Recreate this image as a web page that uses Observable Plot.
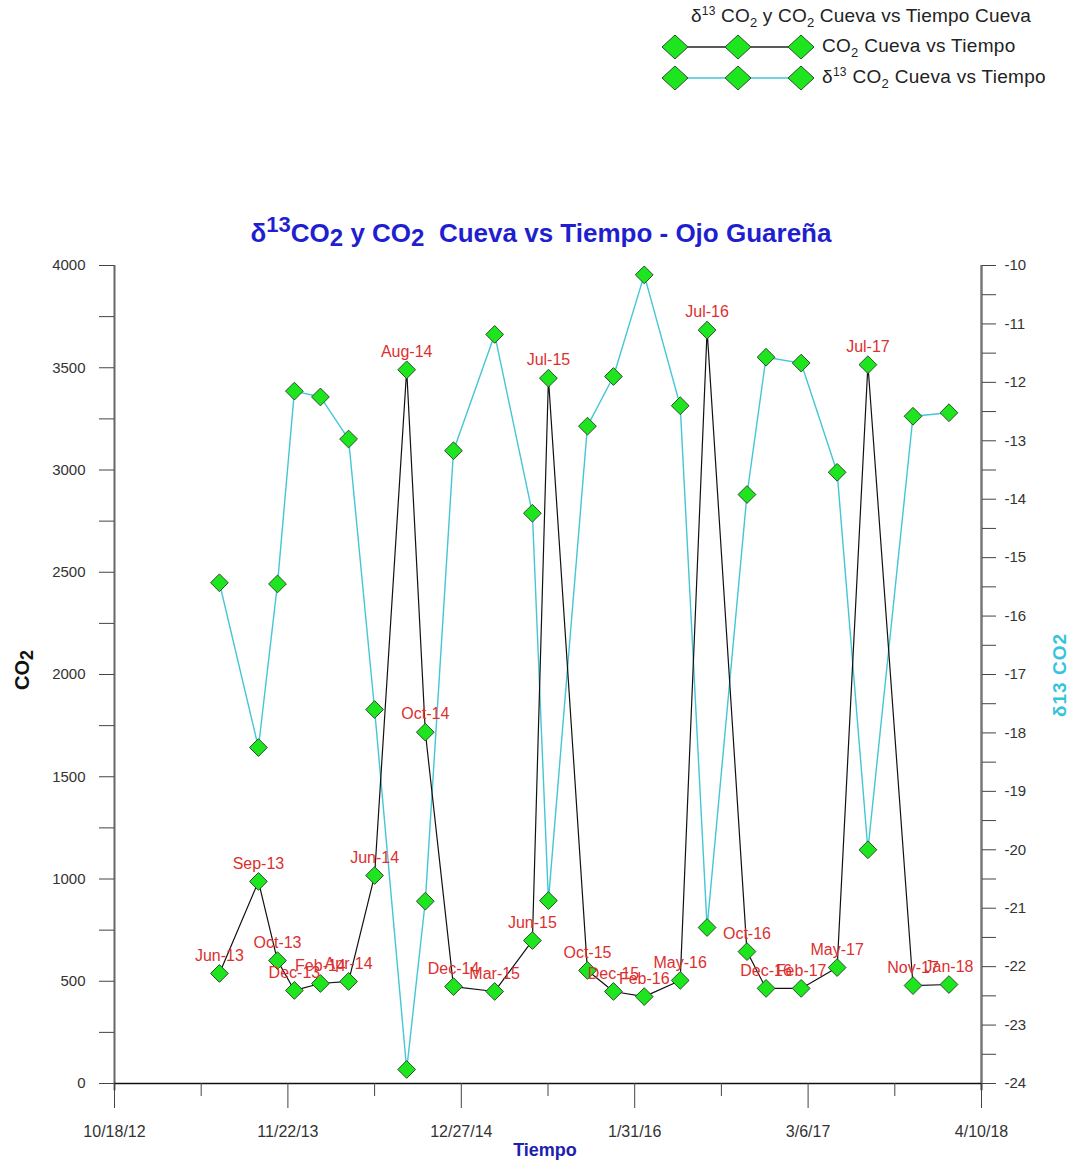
<!DOCTYPE html>
<html>
<head>
<meta charset="utf-8">
<script src="https://cdn.jsdelivr.net/npm/d3@7"></script>
<script src="https://cdn.jsdelivr.net/npm/@observablehq/plot@0.6"></script>
<style>
  html, body { margin: 0; padding: 0; background: #fff; }
  #wrap { position: relative; width: 1073px; height: 1160px; font-family: "Liberation Sans", Arial, sans-serif; }
  #chart { position: absolute; left: 0; top: 0; }
  .abs { position: absolute; white-space: nowrap; }
  .center { transform: translate(-50%, -50%); }
  .rot { transform: translate(-50%, -50%) rotate(-90deg); }
  sup, sub { line-height: 0; }
</style>
</head>
<body>
<div id="wrap">
  <div id="chart"></div>

  <!-- legend -->
  <div class="abs center" style="left:861px; top:16px; font-size:19px; letter-spacing:0.2px; color:#222;">δ<sup style="font-size:12px;vertical-align:7px;">13</sup> CO<sub style="font-size:13px;vertical-align:-5px;">2</sub> y CO<sub style="font-size:13px;vertical-align:-5px;">2</sub> Cueva vs Tiempo Cueva</div>
  <svg class="abs" style="left:655px; top:28px;" width="170" height="70">
    <line x1="20" y1="19" x2="146" y2="19" stroke="#222" stroke-width="1.3"/>
    <line x1="20" y1="50" x2="146" y2="50" stroke="#45c6d6" stroke-width="1.3"/>
    <g fill="#1ee61e" stroke="#2d4d2d" stroke-width="1">
      <path d="M7,19 L20,7 L33,19 L20,31 Z"/>
      <path d="M70,19 L83,7 L96,19 L83,31 Z"/>
      <path d="M133,19 L146,7 L159,19 L146,31 Z"/>
      <path d="M7,50 L20,38 L33,50 L20,62 Z"/>
      <path d="M70,50 L83,38 L96,50 L83,62 Z"/>
      <path d="M133,50 L146,38 L159,50 L146,62 Z"/>
    </g>
  </svg>
  <div class="abs" style="left:822px; top:35px; font-size:19px; letter-spacing:0.3px; color:#222;">CO<sub style="font-size:13px;vertical-align:-5px;">2</sub> Cueva vs Tiempo</div>
  <div class="abs" style="left:822px; top:66px; font-size:19px; letter-spacing:0.3px; color:#222;">δ<sup style="font-size:12px;vertical-align:7px;">13</sup> CO<sub style="font-size:13px;vertical-align:-5px;">2</sub> Cueva vs Tiempo</div>

  <!-- title -->
  <div class="abs center" style="left:541px; top:233px; font-size:26px; font-weight:bold; color:#1f1fd0;">δ<sup style="font-size:22px;vertical-align:10px;">13</sup>CO<sub style="font-size:24px;vertical-align:-4px;">2</sub> y CO<sub style="font-size:24px;vertical-align:-4px;">2</sub>&nbsp; Cueva vs Tiempo - Ojo Guareña</div>

  <!-- axis titles -->
  <div class="abs rot" style="left:22px; top:670px; font-size:20px; font-weight:bold; color:#111;">CO<sub style="font-size:18px;vertical-align:-4px;">2</sub></div>
  <div class="abs rot" style="left:1060px; top:675px; font-size:19px; font-weight:bold; letter-spacing:1px; color:#35c4dc;">δ13 CO2</div>
  <div class="abs center" style="left:545px; top:1150px; font-size:18px; font-weight:bold; color:#2020b0; font-family:'Liberation Sans Narrow','Arial Narrow',sans-serif;">Tiempo</div>
</div>

<script>
// ---- data ----
const dates = ["2013-06-17","2013-09-15","2013-10-29","2013-12-07","2014-02-05","2014-04-11","2014-06-10","2014-08-23","2014-10-05","2014-12-09","2015-03-14","2015-06-09","2015-07-16","2015-10-14","2015-12-13","2016-02-22","2016-05-15","2016-07-16","2016-10-16","2016-11-29","2017-02-18","2017-05-12","2017-07-22","2017-11-03","2018-01-25"];
const labels = ["Jun-13","Sep-13","Oct-13","Dec-13","Feb-14","Apr-14","Jun-14","Aug-14","Oct-14","Dec-14","Mar-15","Jun-15","Jul-15","Oct-15","Dec-15","Feb-16","May-16","Jul-16","Oct-16","Dec-16","Feb-17","May-17","Jul-17","Nov-17","Jan-18"];
const co2 = [538, 988, 601, 455, 489, 499, 1017, 3490, 1718, 474, 450, 699, 3449, 553, 450, 425, 504, 3684, 645, 465, 465, 567, 3515, 479, 484];
const d13c = [-15.43, -18.25, -15.45, -12.15, -12.25, -12.97, -17.60, -23.76, -20.88, -13.17, -11.18, -14.24, -20.87, -12.75, -11.90, -10.16, -12.40, -21.33, -13.92, -11.57, -11.67, -13.54, -20.00, -12.58, -12.52];

const xTickDates = ["2012-10-18","2013-11-22","2014-12-27","2016-01-31","2017-03-06","2018-04-10"];
const xMinorDates = ["2013-05-06","2014-06-10","2015-07-15","2016-08-18","2017-09-22"];
const yLeftTicks = [0, 500, 1000, 1500, 2000, 2500, 3000, 3500, 4000];
const yLeftMinor = [250, 750, 1250, 1750, 2250, 2750, 3250, 3750];
const yRightTicks = [-24, -23, -22, -21, -20, -19, -18, -17, -16, -15, -14, -13, -12, -11, -10];
const yRightMinor = [-23.5, -22.5, -21.5, -20.5, -19.5, -18.5, -17.5, -16.5, -15.5, -14.5, -13.5, -12.5, -11.5, -10.5];

// right axis domain mapped onto the left (CO2) scale
const rMin = -24, rMax = -10, lMin = 0, lMax = 4000;
const toLeft = v => lMin + (v - rMin) * (lMax - lMin) / (rMax - rMin);
const fromLeft = v => rMin + (v - lMin) * (rMax - rMin) / (lMax - lMin);

const parse = d3.utcParse("%Y-%m-%d");
const data = dates.map((d, i) => ({date: parse(d), co2: co2[i], d13: toLeft(d13c[i]), label: labels[i]}));
const xTicks = xTickDates.map(parse);
const xMinor = xMinorDates.map(parse);
const x0 = xTicks[0], x1 = xTicks[xTicks.length - 1];

const cyan = "#45c6d6";
const green = "#1ee61e";
const red = "#dc3030";

const chart = Plot.plot({
  width: 1073,
  height: 1160,
  marginTop: 265,
  marginBottom: 77,
  marginLeft: 114,
  marginRight: 92,
  x: {type: "utc", domain: [x0, x1]},
  y: {domain: [lMin, lMax]},
  style: {fontFamily: "'Liberation Sans', Arial, sans-serif", fontSize: "14px", background: "transparent", overflow: "visible"},
  marks: [
    // axis lines
    Plot.ruleX([x0], {y1: -35, y2: lMax, stroke: "#666", strokeWidth: 2}),
    Plot.ruleX([x1], {y1: -35, y2: lMax, stroke: "#777", strokeWidth: 2.5}),
    Plot.ruleY([0], {x1: x0, x2: x1, stroke: "#111", strokeWidth: 1.5}),
    // left axis
    Plot.axisY({anchor: "left", ticks: yLeftTicks, tickSize: 15, tickPadding: 14, tickFormat: d => String(d), label: null, stroke: "#444", fill: "#333", fontSize: 15, style: {letterSpacing: "3px"}}),
    Plot.axisY({anchor: "left", ticks: yLeftMinor, tickSize: 15, tickFormat: () => "", label: null, stroke: "#444"}),
    // right axis
    Plot.axisY({anchor: "right", ticks: yRightTicks.map(toLeft), tickSize: 14, tickPadding: 9, tickFormat: d => String(Math.round(fromLeft(d))), label: null, stroke: "#444", fill: "#333", fontSize: 15, style: {letterSpacing: "2px"}}),
    Plot.axisY({anchor: "right", ticks: yRightMinor.map(toLeft), tickSize: 14, tickFormat: () => "", label: null, stroke: "#444"}),
    // x axis
    Plot.axisX({ticks: xTicks, tickSize: 25, tickPadding: 17, tickFormat: d3.utcFormat("%-m/%-d/%y"), label: null, stroke: "#444", fill: "#333", fontSize: 16, fontFamily: "'Liberation Sans Narrow', 'Arial Narrow', sans-serif"}),
    Plot.axisX({ticks: xMinor, tickSize: 13, tickFormat: () => "", label: null, stroke: "#444"}),
    // series
    Plot.line(data, {x: "date", y: "d13", stroke: cyan, strokeWidth: 1.4}),
    Plot.line(data, {x: "date", y: "co2", stroke: "#111", strokeWidth: 1.2}),
    Plot.dot(data, {x: "date", y: "d13", symbol: "diamond2", r: 8, fill: green, stroke: "#2d4d2d", strokeWidth: 1}),
    Plot.dot(data, {x: "date", y: "co2", symbol: "diamond2", r: 8, fill: green, stroke: "#2d4d2d", strokeWidth: 1}),
    Plot.text(data, {x: "date", y: "co2", text: "label", dy: -18, fill: red, fontSize: 16, style: {letterSpacing: "1.3px"}})
  ]
});
document.getElementById("chart").appendChild(chart);
</script>
</body>
</html>
